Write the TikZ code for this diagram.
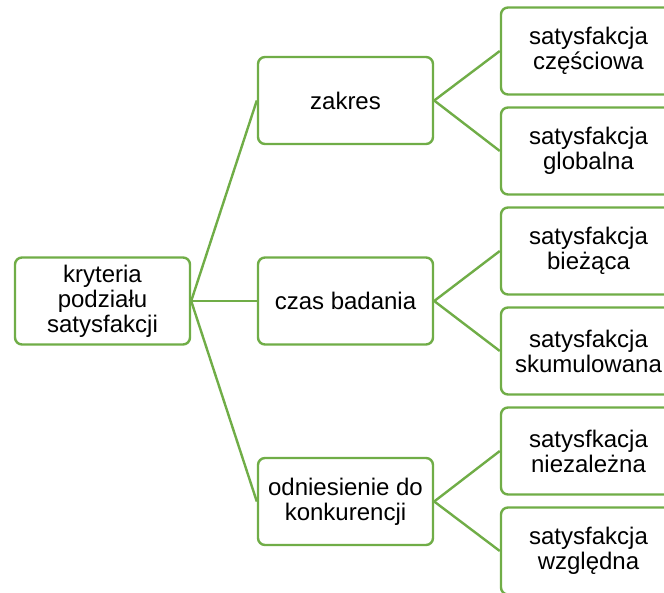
\documentclass[tikz,border=0pt]{standalone}
\usepackage{fontspec}
\setmainfont{Liberation Sans}
\tikzset{
  x=1pt, y=-1pt,
  box/.style={draw=boxgreen, line width=2.4pt, rounded corners=7pt, fill=white,
    minimum width=175pt, minimum height=87pt, align=center, inner sep=2pt,
    font=\fontsize{24}{25}\selectfont},
  link/.style={draw=boxgreen, line width=2.4pt}
}
\definecolor{boxgreen}{HTML}{70AD47}
\begin{document}
\begin{tikzpicture}
\useasboundingbox (0,0) rectangle (664,592);
\begin{scope}
\clip (0,0) rectangle (664,592);
% root
\node[box] (root) at (102.5,301) {kryteria\\podziału\\satysfakcji};
% criteria
\node[box] (zakres) at (345.5,100.5) {zakres};
\node[box] (czas) at (345.5,301) {czas badania};
\node[box] (odn) at (345.5,501.5) {odniesienie do\\konkurencji};
% kinds of satisfaction
\node[box] (a1) at (588.5,51) {satysfakcja\\częściowa};
\node[box] (a2) at (588.5,151) {satysfakcja\\globalna};
\node[box] (b1) at (588.5,251) {satysfakcja\\bieżąca};
\node[box] (b2) at (588.5,351) {satysfakcja\\skumulowana};
\node[box] (c1) at (588.5,451) {satysfkacja\\niezależna};
\node[box] (c2) at (588.5,551) {satysfakcja\\względna};
% connectors
\foreach \t in {zakres,czas,odn}
  \draw[link] (root.east) -- (\t.west);
\foreach \s/\t in {zakres/a1,zakres/a2,czas/b1,czas/b2,odn/c1,odn/c2}
  \draw[link] (\s.east) -- (\t.west);
\end{scope}
\end{tikzpicture}
\end{document}
